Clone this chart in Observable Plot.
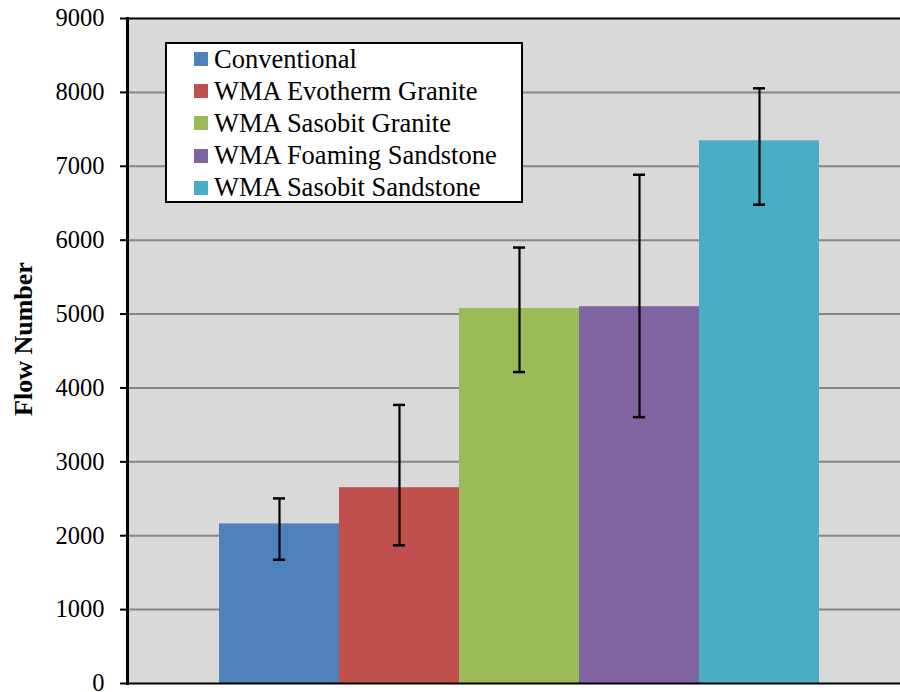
<!DOCTYPE html>
<html>
<head>
<meta charset="utf-8">
<script src="https://cdn.jsdelivr.net/npm/d3@7"></script>
<script src="https://cdn.jsdelivr.net/npm/@observablehq/plot@0.6"></script>
<style>
  html, body { margin: 0; padding: 0; background: #ffffff; }
  #wrap { position: relative; width: 900px; height: 692px; overflow: hidden; font-family: "Liberation Serif", "Times New Roman", serif; }
  #legend { position: absolute; left: 165px; top: 42px; width: 354px; height: 157px; border: 2px solid #000; background: #fff; box-sizing: content-box; }
  .row { position: absolute; left: 27px; height: 32px; display: flex; align-items: center; white-space: nowrap; font-size: 26.5px; color: #000; font-family: "Liberation Serif", "Times New Roman", serif; }
  .sw { width: 14px; height: 14px; margin-right: 6px; flex: none; }
</style>
</head>
<body>
<div id="wrap"></div>
<script>
const categories = ["Conventional", "WMA Evotherm Granite", "WMA Sasobit Granite", "WMA Foaming Sandstone", "WMA Sasobit Sandstone"];
const flowNumber = [2160, 2650, 5075, 5100, 7345];
const errLow = [1675, 1870, 4215, 3605, 6480];
const errHigh = [2505, 3770, 5900, 6885, 8055];
const colors = ["#4f81bd", "#c0504d", "#9bbb59", "#8064a2", "#4bacc6"];
const yTicks = [0, 1000, 2000, 3000, 4000, 5000, 6000, 7000, 8000, 9000];
const yLabel = "Flow Number";

const data = categories.map((c, i) => ({cat: c, value: flowNumber[i], lo: errLow[i], hi: errHigh[i]}));

const chart = Plot.plot({
  width: 900,
  height: 692,
  marginLeft: 127,
  marginRight: 0,
  marginTop: 18,
  marginBottom: 9,
  style: {fontFamily: "'Liberation Serif', 'Times New Roman', serif", fontSize: "24px", background: "#ffffff", color: "#000", overflow: "visible"},
  x: {domain: categories, range: [218, 820], padding: 0, axis: null},
  y: {domain: [0, 9000], axis: null},
  color: {domain: categories, range: colors},
  marks: [
    Plot.frame({fill: "#d9d9d9", stroke: null}),
    Plot.gridY(yTicks.filter(d => d > 0 && d < 9000), {stroke: "#868686", strokeOpacity: 1, strokeWidth: 2}),
    Plot.barY(data, {x: "cat", y: "value", fill: "cat", inset: 0}),
    Plot.ruleX(data, {x: "cat", y1: "lo", y2: "hi", stroke: "#000", strokeWidth: 2.2}),
    Plot.tickY(data, {x: "cat", y: "lo", insetLeft: 54, insetRight: 54, stroke: "#000", strokeWidth: 2.5}),
    Plot.tickY(data, {x: "cat", y: "hi", insetLeft: 54, insetRight: 54, stroke: "#000", strokeWidth: 2.5}),
    Plot.ruleY([9000], {stroke: "#000", strokeWidth: 2}),
    Plot.ruleY([0], {stroke: "#000", strokeWidth: 2}),
    Plot.frame({anchor: "left", stroke: "#000", strokeWidth: 3}),
    Plot.axisY({ticks: yTicks, tickSize: 7, tickPadding: 16, tickFormat: d => String(d), label: null, fontSize: 24.5, stroke: "#000", strokeWidth: 2, strokeOpacity: 1}),
    Plot.text([yLabel], {frameAnchor: "left", textAnchor: "middle", dx: -104, dy: -12, rotate: -90, fontWeight: "bold", fontSize: 26, fill: "#000"})
  ]
});

const wrap = document.getElementById("wrap");
wrap.appendChild(chart);

const legend = document.createElement("div");
legend.id = "legend";
categories.forEach((c, i) => {
  const row = document.createElement("div");
  row.className = "row";
  row.style.top = (-1 + i * 32.2) + "px";
  const sw = document.createElement("div");
  sw.className = "sw";
  sw.style.background = colors[i];
  const t = document.createElement("span");
  t.textContent = c;
  row.appendChild(sw);
  row.appendChild(t);
  legend.appendChild(row);
});
wrap.appendChild(legend);
</script>
</body>
</html>
